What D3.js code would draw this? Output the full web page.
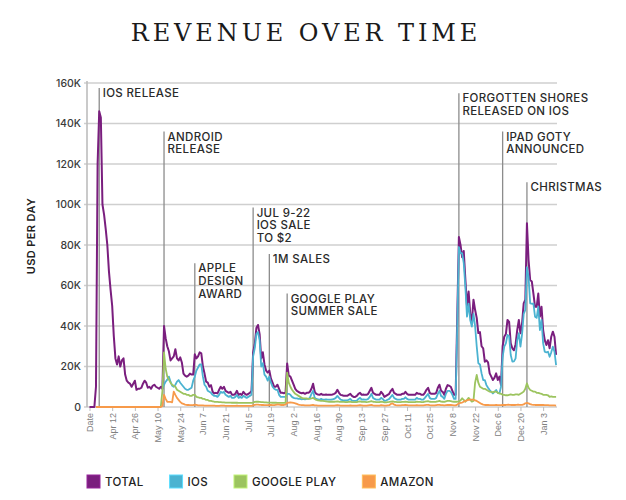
<!DOCTYPE html>
<html><head><meta charset="utf-8">
<script src="https://cdnjs.cloudflare.com/ajax/libs/d3/7.8.5/d3.min.js"></script>
<style>body{margin:0;background:#fff}svg{display:block}</style>
</head><body>
<svg id="chart" width="626" height="500"></svg>
<script>
const chartTitle = "REVENUE OVER TIME";
const yAxisTitle = "USD PER DAY";
const seriesNames = ["TOTAL", "IOS", "GOOGLE PLAY", "AMAZON"];
const seriesColors = ["#7a1e7e", "#4bb3d1", "#9cc45f", "#f79a4a"];
const firstCategory = "Date";
const firstDay = "2014-03-30";
const dayCount = 288;
const tickLabels = ["Date","Apr 12","Apr 26","May 10","May 24","Jun 7","Jun 21","Jul 5","Jul 19","Aug 2","Aug 16","Aug 30","Sep 13","Sep 27","Oct 11","Oct 25","Nov 8","Nov 22","Dec 6","Dec 20","Jan 3"];
const yTicks = [0, 20, 40, 60, 80, 100, 120, 140, 160]; // thousands of USD

// series values in thousands of USD per day, each series begins at its start category index
const totalStart = 0;
const totalValues = [
0,0,0,0,10,120,146,143,100,95,
88,80,67,58,50,35,24,21,25,20,
23,24,16,13,12,11.5,10,11.5,13,8.5,
9,9,9.5,11.5,13,12,9.5,10,9,10.5,
11,10,9.5,9,10,9,40,34,30,27.5,
23,24,25,28.5,24,23,24.5,22,16.5,15.5,
15,15.5,16.5,16,16,26,24,25,27,26.5,
20,16.5,12.5,12,10,10.8,7.5,6.7,7,6.7,
8.5,10,9,10,8,7.5,7,7.5,6,6,
6.5,8,6,6.5,6,7.5,6.5,6,6.5,7,
8,27,31,39,40.5,36,24,27,21,18,
17,18,14,12,10,10,11,9,7,7,
6.8,7,21.5,15.5,15,13,11,9,8,7.5,
7,6.8,7,6.5,7,7,7.5,9,11.5,7.5,
6.5,6.2,6,6.5,6,6,6.2,6,6,6,
6.2,6.5,7,8.5,7,6,5.8,5.5,5.5,5.5,
6,6.5,5.5,5,5,5.5,6.5,7,6,6.2,
6,6,6.5,8,9.5,7,6.5,6,6,6,
7.5,6.5,5,5.5,6,6.5,8,9,7,6.5,
6,6,6,6.5,6.5,7.5,6.5,6,6,6,
6,6,7,6.5,6.5,6,6,7,8.5,9.5,
7,6.5,6.5,6.5,7,9.5,11,8,7.5,6,
9,10.8,10.5,10,8,6,6,45,84,80,
74,77,63,50,57,46,42,53,48,44,
36.5,37,30,29,22.4,23,22,16.6,15,13.3,
14.5,16.6,13.3,15,10.8,30,34.7,36,43,42,
31.4,29,28,31,38,43,36.4,41.3,51.2,53,
90.7,72.6,62.7,62,56,49.5,49.5,56,44.6,49.5,
38,33,30.6,33,29,34.7,37.2,34.7,25.7
];
const iosStart = 45;
const iosValues = [
9,11,12.5,13.5,15,
12.5,10.5,10,11,12.5,13.3,12,11,10,9,
8.5,8.5,9,9.5,13,15,18,19.5,21,21,
15,11,10,8,7.5,7,6,5.5,5.5,5,
6,7.5,7,7.5,6,5.5,5,5.5,4.5,4.5,
5,6,4.5,5,4.5,5.5,5,4.5,5,5.5,
6,25,29,36,37,33,20,21.6,16,15,
13,15,12,10,9,8.5,8.5,6,5,5,
5,5,6.5,6.5,6,5,4.5,4.3,4.3,4,
4,3.8,4,3.8,4,4,4.5,6.5,8,4.5,
4,3.8,3.6,4,3.6,3.6,3.8,3.6,3.6,3.6,
3.8,4,4.5,5.5,4.5,3.6,3.4,3.2,3.2,3.2,
3.6,4,3.2,3,3,3.2,4,4.5,3.6,3.8,
3.6,3.6,4,5,6.5,4.5,4,3.6,3.6,3.6,
4.5,4,3,3.2,3.6,4,5,6,4.5,4,
3.6,3.6,3.6,4,4,4.8,4,3.6,3.6,3.6,
3.6,3.6,4.5,4,4,3.6,3.6,4.5,5.5,6.5,
4.5,4,4,4,4.5,6.5,8,5.5,5,4,
6.5,8,8,7.5,6,4,4,40,79,76,
76,71,59.4,44.6,51,43,39.7,46,40,30,
21.6,21,16.6,13.3,13.3,10.8,9.5,8.4,7.5,6.7,
7.5,8.4,7,6.7,10,24.8,29.8,31.4,35.6,35,
25.7,22.4,22.5,24,33,36.4,29.8,36,46,48,
69,64.3,51.2,51,51,44.6,44,49.5,38,43,
31.4,27.3,27,27.3,24.8,27,29.8,27.3,20.7
];
const googleStart = 44;
const googleValues = [
0,8,27,19,15,13.5,
12,11,10.5,10,8.5,8,7.5,7,6.5,6.5,
6,6,5.5,5.5,6,6,5,4.8,4.5,4.5,
4,4,3.5,3.5,3,3,2.8,2.6,2.5,2.5,
2.4,2.4,2.3,2.3,2.2,2.2,2.2,2.2,2.1,2.1,
2.1,2.1,2,2,2,2,2,2,2,2,
2,2.2,2.5,2.6,2.6,2.5,2.4,2.4,2.3,2.3,
2.2,2.2,2.2,2.1,2.1,2.1,2,2,2,2,
2,2,17,12,10,8.5,7.5,6.5,6,5.5,
5,4.5,4.3,4.3,4.2,4,4,4.2,4.5,4,
3.5,3.3,3.2,3,3,2.9,2.8,2.7,2.6,2.6,
2.6,2.6,2.7,2.8,2.6,2.5,2.5,2.5,2.4,2.4,
2.5,2.6,2.4,2.4,2.4,2.4,2.6,2.8,2.5,2.5,
2.5,2.4,2.5,2.7,2.9,2.6,2.5,2.4,2.4,2.4,
2.7,2.5,2.3,2.3,2.4,2.5,2.7,2.8,2.6,2.5,
2.4,2.4,2.4,2.5,2.5,2.6,2.5,2.4,2.4,2.4,
2.4,2.4,2.6,2.5,2.5,2.4,2.4,2.6,2.8,2.9,
2.6,2.5,2.5,2.5,2.6,2.8,3,2.7,2.6,2.5,
2.8,3,3,2.9,2.7,2.6,2.6,2.6,2.8,3.2,
4.3,3.5,2.6,3.5,4.5,3.5,2.7,3,12,15.8,
12,10,9.5,9,9,8.5,8,7.6,7.5,7.2,
7.6,7.6,7,6.7,6.5,6,6,5.8,5.8,6,
6.2,6,6,6.2,6.2,6,6.5,7,7.6,9,
11.7,9.5,8.4,8,7.6,7.6,7,7,6.7,6.5,
6,6,6,5.8,5,5.2,5,5,5
];
const amazonStart = 4;
const amazonValues = [
0,0,0,0,0,0,
0,0,0,0,0,0,0,0,0,0,
0,0,0,0,0,0,0,0,0,0,
0,0,0,0,0,0,0,0,0,0,
0,0,0,0,0,0.5,6,4,2.6,2.5,
2.5,2.3,7.6,6,4.5,3.5,2.5,1.8,1.5,1.2,
1,1,0.9,0.9,0.9,1.2,1,0.8,0.8,0.8,
0.8,0.7,0.7,0.7,0.7,0.7,0.7,0.7,0.6,0.6,
0.6,0.7,0.7,0.7,0.6,0.6,0.6,0.6,0.6,0.6,
0.6,0.7,0.6,0.6,0.6,0.6,0.6,0.6,0.6,0.6,
0.6,0.8,1,1.2,1.2,1.1,1,1,0.9,0.9,
0.9,1,1,0.9,0.9,1,1.3,1.2,1,1,
1,1.2,2,2.2,2.3,2.2,2,1.8,1.5,1.2,
1,0.9,0.9,0.8,0.8,0.8,0.8,0.9,1,0.8,
0.8,0.7,0.7,0.7,0.7,0.7,0.7,0.7,0.7,0.7,
0.7,0.7,0.8,0.9,0.8,0.7,0.7,0.7,0.7,0.7,
0.7,0.8,0.7,0.7,0.7,0.7,0.8,0.9,0.8,0.7,
0.7,0.7,0.8,0.9,1,0.8,0.7,0.7,0.7,0.7,
0.9,0.8,0.7,0.7,0.8,0.9,1.5,1.8,1.2,0.9,
0.8,0.8,0.8,0.9,0.9,1,0.9,0.8,0.8,0.8,
0.8,0.8,0.9,0.8,0.8,0.8,0.8,0.9,1,1.1,
0.9,0.8,0.8,0.8,0.9,1,1.1,0.9,0.9,0.8,
0.9,1,1,1,0.9,0.8,0.8,1.2,1.8,2,
2.2,2.6,3,3.3,3.5,3.6,3.6,3.6,3.3,3,
2.5,2,1.5,1.2,1,1,1,0.9,0.9,0.9,
0.9,1,0.9,0.9,0.9,1,1,1,1.1,1.1,
1,1,1,1,1.1,1.1,1,1.1,1.3,1.8,
2,1.8,1.4,1.2,1.1,1,1,1,1,1,
1,0.9,0.9,0.9,0.8,0.8,0.8,0.8,0.7
];
const annotationDates = ["Apr 4","May 14","Jun 2","Jul 8","Jul 18","Jul 29","Nov 12","Dec 9","Dec 24"];
const annotationLevels = [157.5, 136, 71, 98.5, 75.5, 56, 155, 136, 111]; // thousands, where the marker line starts
const annotationTexts = [
  ["IOS RELEASE"],
  ["ANDROID","RELEASE"],
  ["APPLE","DESIGN","AWARD"],
  ["JUL 9-22","IOS SALE","TO $2"],
  ["1M SALES"],
  ["GOOGLE PLAY","SUMMER SALE"],
  ["FORGOTTEN SHORES","RELEASED ON IOS"],
  ["IPAD GOTY","ANNOUNCED"],
  ["CHRISTMAS"]
];

// ---- build ----
const fmt = d3.timeFormat("%b %-d");
const start = d3.timeParse("%Y-%m-%d")(firstDay);
const categories = [firstCategory].concat(
  d3.timeDay.range(start, d3.timeDay.offset(start, dayCount)).map(fmt));

const plot = {left: 87, right: 557, top: 83, bottom: 407};
const x = d3.scalePoint().domain(categories).range([89.5, 556.1]);
const y = d3.scaleLinear().domain([0, 160]).range([plot.bottom, plot.top]);

const svg = d3.select("#chart");
const sans = "Inter, 'Open Sans', sans-serif";

svg.append("text").attr("x", 306).attr("y", 41).attr("text-anchor", "middle")
  .attr("font-family", "'DejaVu Serif', serif").attr("font-size", 24)
  .attr("letter-spacing", 3.9).attr("fill", "#1a1a1a").text(chartTitle);

// grid
svg.append("g").selectAll("line").data(yTicks).join("line")
  .attr("x1", plot.left - 3).attr("x2", plot.right)
  .attr("y1", d => y(d)).attr("y2", d => y(d))
  .attr("stroke", "#cfcfcf").attr("stroke-width", 1.6);
svg.append("line").attr("x1", plot.left).attr("x2", plot.left)
  .attr("y1", plot.top - 2).attr("y2", plot.bottom)
  .attr("stroke", "#bdbdbd").attr("stroke-width", 1.6);

// y axis labels
const yAxis = d3.axisLeft(y).tickValues(yTicks).tickSize(0).tickPadding(0)
  .tickFormat(d => d === 0 ? "0" : d + "K");
const yg = svg.append("g").attr("transform", `translate(81,0)`).call(yAxis);
yg.select(".domain").remove();
yg.selectAll("text").attr("font-family", sans).attr("font-size", 10.5)
  .attr("fill", "#3a3a3a").attr("font-weight", 500);

svg.append("text").attr("transform", "translate(35,236) rotate(-90)")
  .attr("text-anchor", "middle").attr("font-family", sans).attr("font-size", 11)
  .attr("font-weight", 600).attr("letter-spacing", 0.4).attr("fill", "#222").text(yAxisTitle);

// x axis
const xAxis = d3.axisBottom(x).tickValues(tickLabels).tickSize(4).tickPadding(0);
const xg = svg.append("g").attr("transform", `translate(0,${plot.bottom})`).call(xAxis);
xg.select(".domain").remove();
xg.selectAll(".tick line").attr("stroke", "#bdbdbd");
xg.selectAll("text").attr("transform", "rotate(-90)").attr("x", -6).attr("y", 0)
  .attr("dy", "0.33em").attr("text-anchor", "end")
  .attr("font-family", "'Liberation Sans', Arial, sans-serif").attr("font-size", 9)
  .attr("fill", "#808080");

// annotations
const ann = svg.append("g");
annotationDates.forEach((d, k) => {
  const ax = x(d), top = y(annotationLevels[k]);
  ann.append("line").attr("x1", ax).attr("x2", ax).attr("y1", top).attr("y2", plot.bottom)
    .attr("stroke", "#8c8c8c").attr("stroke-width", 1.3);
  const t = ann.append("text").attr("font-family", sans).attr("font-size", 11.5)
    .attr("font-weight", 500).attr("letter-spacing", 0.35).attr("fill", "#2a2a2a");
  annotationTexts[k].forEach((line, j) => {
    t.append("tspan").attr("x", ax + 3.5).attr("y", top + 9 + j * 12.8).text(line);
  });
});

// series
const series = [
  {start: totalStart, values: totalValues},
  {start: iosStart, values: iosValues},
  {start: googleStart, values: googleValues},
  {start: amazonStart, values: amazonValues}
];
const line = d3.line().x(d => x(d[0])).y(d => y(d[1]));
series.forEach((s, k) => {
  const pts = s.values.map((v, j) => [categories[s.start + j], v]);
  svg.append("path").datum(pts).attr("d", line).attr("fill", "none")
    .attr("stroke", seriesColors[k]).attr("stroke-width", k === 0 ? 2 : 1.8)
    .attr("stroke-linejoin", "round");
});

// legend
const lg = svg.append("g");
let lx = 87;
seriesNames.forEach((name, k) => {
  lg.append("rect").attr("x", lx).attr("y", 475).attr("width", 13).attr("height", 13)
    .attr("fill", seriesColors[k]).attr("stroke", d3.color(seriesColors[k]).brighter(0.6)).attr("stroke-width", 1);
  const t = lg.append("text").attr("x", lx + 18).attr("y", 486)
    .attr("font-family", sans).attr("font-size", 11.5).attr("font-weight", 500)
    .attr("letter-spacing", 0.35).attr("fill", "#222").text(name);
  lx += 18 + t.node().getComputedTextLength() + 26;
});
</script>
</body></html>
